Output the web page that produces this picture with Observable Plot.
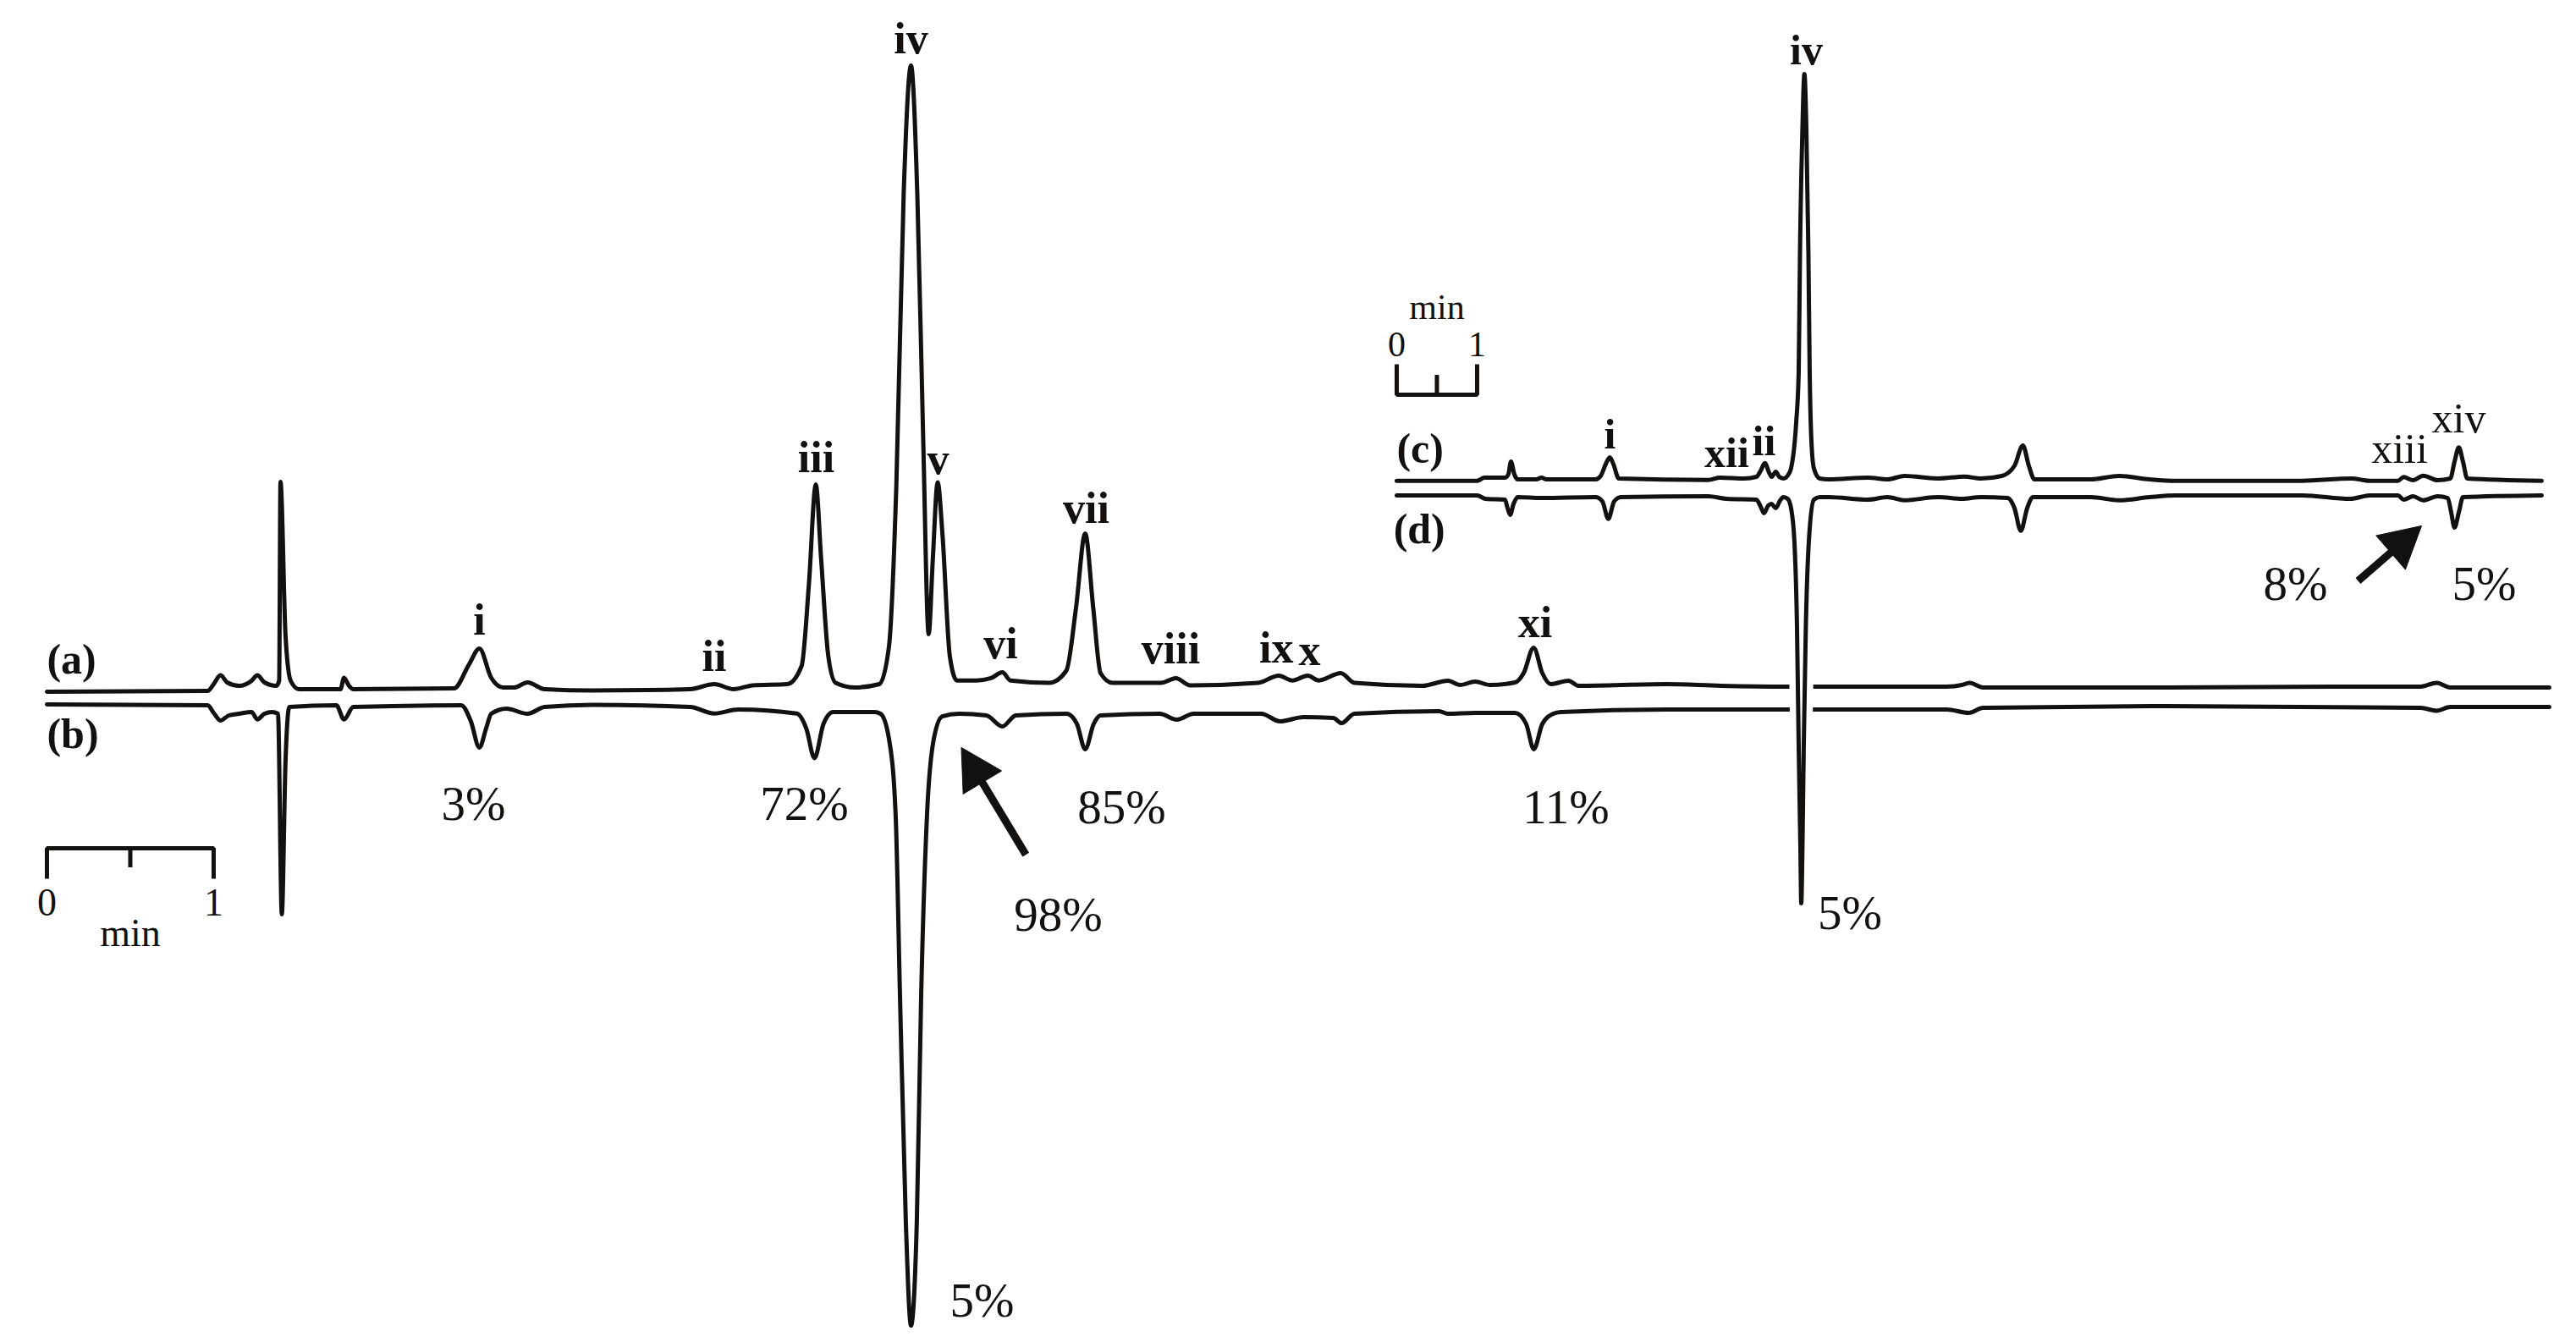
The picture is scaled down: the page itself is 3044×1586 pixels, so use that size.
<!DOCTYPE html>
<html>
<head>
<meta charset="utf-8">
<script src="https://cdn.jsdelivr.net/npm/d3@7"></script>
<script src="https://cdn.jsdelivr.net/npm/@observablehq/plot@0.6"></script>
<style>
  html, body { margin: 0; padding: 0; background: #fff; }
  #chart { position: relative; width: 3044px; height: 1586px; overflow: hidden; background: #fff; }
</style>
</head>
<body>
<div id="chart"></div>
<script>
// ---------- DATA ----------
// Chromatogram (a): retention time (min) / detector response (relative, peak iv = 100)
const timeA = [0.000, 0.964, 1.000, 1.041, 1.081, 1.152, 1.228, 1.262, 1.305, 1.376, 1.393, 1.401, 1.431, 1.462, 1.511, 1.761, 1.782, 1.812, 1.838, 2.442, 2.531, 2.594, 2.665, 2.736, 2.802, 2.883, 2.985, 3.274, 3.858, 4.003, 4.119, 4.234, 4.440, 4.527, 4.571, 4.612, 4.644, 4.687, 4.731, 4.848, 4.993, 5.051, 5.095, 5.139, 5.183, 5.221, 5.256, 5.289, 5.314, 5.343, 5.372, 5.416, 5.459, 5.576, 5.663, 5.731, 5.780, 6.013, 6.115, 6.173, 6.228, 6.276, 6.320, 6.391, 6.683, 6.772, 6.858, 7.266, 7.389, 7.470, 7.563, 7.629, 7.761, 7.843, 8.249, 8.404, 8.477, 8.567, 8.655, 8.807, 8.858, 8.918, 8.970, 9.020, 9.127, 9.188, 9.711, 10.041, 10.431, 11.396, 11.487, 11.533, 11.614, 12.716, 13.706, 14.239, 14.335, 14.416, 15.010];
const signalA = [-0.68, -0.54, 0.54, 1.97, 0.82, 0.27, 1.09, 1.97, 0.82, 0.27, 1.09, 33.06, 8.44, 1.09, -0.27, -0.27, 1.56, 0.27, -0.27, -0.14, 3.67, 6.26, 1.56, 0, 0, 0.82, -0.27, -0.48, -0.27, 0.54, -0.27, 0.34, 0.54, 3.47, 16.73, 32.65, 20.68, 5.03, 0.75, 0, 0.54, 6.60, 32.38, 79.24, 100, 79.24, 40.19, 8.57, 20.68, 32.99, 24.56, 5.03, 1.13, 1.13, 1.50, 2.45, 1.13, 0.75, 2.72, 12.84, 24.76, 12.84, 2.31, 0.75, 0.75, 1.50, 0.34, 0.75, 1.90, 1.13, 1.90, 1.13, 2.31, 0.75, 0.27, 1.09, 0.41, 0.95, 0.41, 0.82, 2.31, 6.39, 2.31, 0.54, 1.09, 0.27, 0.54, 0.27, 0.14, 0.14, 0.41, 0.75, 0, 0, 0.14, 0.14, 0.75, 0, 0];

// Chromatogram (b): drawn inverted (negative response)
const timeB = [0.000, 0.964, 1.000, 1.041, 1.091, 1.152, 1.228, 1.262, 1.305, 1.350, 1.386, 1.409, 1.431, 1.454, 1.736, 1.782, 1.838, 2.485, 2.543, 2.594, 2.635, 2.665, 2.756, 2.883, 2.985, 3.274, 3.858, 4.003, 4.147, 4.497, 4.556, 4.604, 4.658, 4.716, 4.964, 5.000, 5.051, 5.091, 5.117, 5.152, 5.183, 5.218, 5.244, 5.279, 5.320, 5.371, 5.472, 5.635, 5.731, 5.812, 6.117, 6.178, 6.228, 6.279, 6.320, 6.675, 6.777, 6.878, 7.284, 7.396, 7.538, 7.716, 7.766, 7.843, 8.350, 8.404, 8.567, 8.807, 8.873, 8.919, 8.970, 9.036, 9.081, 9.711, 10.431, 11.396, 11.528, 11.614, 12.716, 14.239, 14.335, 14.416, 15.010];
const signalB = [0.82, 0.68, -0.54, -1.77, -0.95, -0.68, -0.41, -1.58, -0.68, -0.41, -0.68, -32.93, -8.44, 0.41, 0.68, -1.58, 0.41, 0.68, -1.90, -6.12, -2.99, -0.68, 0.14, -0.68, 0.41, 0.76, 0.41, -0.64, 0, -0.64, -3.13, -7.82, -2.31, -0.41, -0.41, -0.68, -4.71, -17.01, -45.99, -82.31, -99.05, -82.31, -45.99, -17.01, -4.71, -1.09, -0.68, -0.95, -2.72, -0.95, -0.68, -2.31, -6.39, -2.31, -0.95, -0.68, -1.63, -0.68, -0.68, -1.90, -1.22, -1.36, -2.18, -0.68, -0.27, -0.68, -0.54, -0.54, -2.31, -6.39, -2.31, -0.68, -0.41, 0, 0, 0, -0.54, 0.27, 0.54, 0.27, -0.20, 0.41, 0.41];

// Chromatogram (c): inset, own time scale
const timeC = [0, 1.000, 1.091, 1.347, 1.389, 1.421, 1.463, 1.505, 1.737, 1.800, 1.863, 2.474, 2.537, 2.600, 2.651, 2.695, 2.763, 3.874, 4.021, 4.326, 4.474, 4.526, 4.579, 4.632, 4.663, 4.716, 4.758, 4.811, 4.874, 4.905, 4.968, 5.000, 5.016, 5.047, 5.071, 5.095, 5.121, 5.137, 5.158, 5.189, 5.263, 5.368, 5.863, 6.105, 6.316, 6.737, 7.063, 7.263, 7.526, 7.684, 7.789, 7.863, 7.933, 8.632, 8.985, 9.368, 9.695, 11.263, 11.874, 12.105, 12.453, 12.526, 12.642, 12.768, 12.947, 13.105, 13.158, 13.211, 13.263, 13.316, 14.242];
const signalC = [-0.15, -0.15, 0.63, 0.63, 1.46, 4.58, 1.46, 0.21, 0.21, 0.63, 0.21, 0.21, 1.04, 3.96, 5.63, 3.96, 0.42, 0.06, 0.63, 0.42, 0.83, 2.29, 4.23, 1.88, 0.83, 2.08, 0.83, 0.42, 1.46, 2.92, 13.96, 26.46, 55.63, 86.88, 100, 86.88, 55.63, 26.46, 9.79, 2.92, 0.42, 0.21, 0.63, 0.21, 1.04, 0.42, 0.90, 0.42, 1.04, 3.54, 8.54, 3.54, 0.21, 0.21, 1.04, 0.21, -0.15, -0.15, 0.42, -0.15, -0.15, 0.77, 0, 1.10, 0, 0.42, 4.58, 8.06, 4.58, 0.42, -0.15];

// Chromatogram (d): inset, inverted
const timeD = [0, 1.000, 1.105, 1.347, 1.379, 1.411, 1.453, 1.505, 1.800, 2.474, 2.558, 2.632, 2.705, 2.789, 3.874, 4.105, 4.474, 4.526, 4.568, 4.621, 4.663, 4.716, 4.768, 4.811, 4.863, 4.905, 4.947, 4.979, 5.000, 5.021, 5.032, 5.047, 5.063, 5.089, 5.126, 5.189, 5.263, 5.368, 5.863, 6.105, 6.316, 6.737, 7.032, 7.263, 7.600, 7.684, 7.763, 7.842, 7.916, 8.632, 8.985, 9.368, 9.695, 11.263, 11.860, 12.105, 12.453, 12.526, 12.642, 12.768, 12.947, 13.074, 13.116, 13.158, 13.211, 13.263, 14.242];
const signalD = [0.21, 0.21, -0.63, -0.83, -2.92, -4.58, -1.88, -0.21, -0.42, -0.21, -1.25, -5.56, -1.25, -0.21, 0, -0.63, -0.83, -2.50, -4.17, -2.29, -1.88, -2.92, -1.04, -0.21, -0.63, -2.92, -11.25, -32.08, -61.25, -86.25, -100.2, -86.25, -61.25, -32.08, -11.25, -0.83, -0.21, -0.21, -0.83, -0.21, -0.98, -0.21, -0.63, -0.21, -0.42, -2.92, -8.48, -2.92, -0.21, -0.21, -0.98, -0.21, 0.21, 0.21, -0.63, 0.21, 0.21, -0.83, 0, -0.98, 0, -0.42, -3.96, -7.71, -3.96, -0.21, 0.21];

// Peak labels, main chromatograms (bold)
const peakNamesMain  = ["i", "ii", "iii", "iv", "v", "vi", "vii", "viii", "ix", "x", "xi"];
const peakTimesMain  = [2.594, 4.003, 4.614, 5.183, 5.345, 5.721, 6.234, 6.741, 7.375, 7.574, 8.926];
const peakLevelsMain = [8.44, 2.72, 34.69, 102.0, 34.29, 4.63, 26.53, 3.81, 4.08, 3.67, 8.03];

// Percentages, main
const pctTextMain   = ["3%", "72%", "85%", "11%", "98%", "5%"];
const pctTimesMain  = [2.558, 4.543, 6.447, 9.112, 6.066, 5.609];
const pctLevelsMain = [-21.36, -21.29, -21.9, -21.9, -39.18, -101.1];

// Trace names
const traceNamesMain  = ["(a)", "(b)"];
const traceLevelsMain = [2.3, -9.7];
const traceNamesInset  = ["(c)", "(d)"];
const traceLevelsInset = [4.17, -15.6];

// Peak labels, inset
const peakNamesInset  = ["i", "xii", "ii", "iv", "xiii", "xiv"];
const peakTimesInset  = [2.653, 4.105, 4.568, 5.095, 12.474, 13.211];
const peakLevelsInset = [7.71, 3.19, 6.25, 102.5, 4.23, 11.875];
const peakBoldInset   = [true, true, true, true, false, false];

// Percentages, inset
const pctTextInset   = ["5%", "8%", "5%"];
const pctTimesInset  = [5.637, 11.179, 13.526];
const pctLevelsInset = [-110.6, -29.375, -29.375];

// Scale bars: 0, ½, 1 min
const scaleTicks = [0, 0.5, 1];
const scaleTickLabels = ["0", "", "1"];

// Arrows (tail -> tip)
const arrowMain  = [{tailT: 5.872, tailV: -26.88, tipT: 5.485, tipV: -9.66}];
const arrowInset = [{tailT: 11.958, tailV: -24.79, tipT: 12.747, tipV: -11.25}];

// ---------- LAYOUT ----------
const W = 3044, H = 1586;
const MAIN_X = [-0.279, 15.173], MAIN_Y = [-105.31, 110.48];
const INSET_X = [-17.368, 14.674], INSET_Y = [-212.29, 118.125];
const OFFSET_B = -3.54, OFFSET_D = -3.96;      // vertical stacking of the mirrored traces
const BAR_MAIN  = {level: -25.85, end: -30.75, mid: -28.98, label: -36.73, unit: -41.5};
const BAR_INSET = {level: 21.04, end: 28.54, mid: 25.83, label: 30.625, unit: 39.65};

const INK = "#121110";
const SERIF = "'Liberation Serif', 'Times New Roman', serif";
const LW = 5;

const zip = (ts, vs, off = 0) => ts.map((t, i) => ({t, v: vs[i] + off}));
const labels = (names, ts, vs) => names.map((s, i) => ({s, t: ts[i], v: vs[i]}));

const headShape = {
  draw(ctx, l) {
    const w = l * 0.55;
    ctx.moveTo(0, -l);
    ctx.lineTo(w, 0);
    ctx.lineTo(-w, 0);
    ctx.closePath();
  }
};
function angleFn(xd, yd) {
  const xs = d3.scaleLinear(xd, [0, W]), ys = d3.scaleLinear(yd, [H, 0]);
  return d => {
    const dx = xs(d.tipT) - xs(d.tailT), dy = ys(d.tipV) - ys(d.tailV);
    return Math.atan2(dx, -dy) * 180 / Math.PI;
  };
}
function arrowMarks(data, xd, yd) {
  return [
    Plot.arrow(data, {x1: "tailT", y1: "tailV", x2: "tipT", y2: "tipV", headLength: 0, insetEnd: 36,
      stroke: INK, strokeWidth: 9, strokeLinecap: "butt"}),
    Plot.vector(data, {x: "tipT", y: "tipV", rotate: angleFn(xd, yd), length: 48, anchor: "end",
      shape: headShape, fill: INK, stroke: INK, strokeWidth: 1})
  ];
}
function scaleBar(bar, fontSize) {
  const path = [{t: 0, v: bar.end}, {t: 0, v: bar.level}, {t: 1, v: bar.level}, {t: 1, v: bar.end}];
  return [
    Plot.line(path, {x: "t", y: "v", stroke: INK, strokeWidth: LW, strokeLinejoin: "miter", strokeLinecap: "butt"}),
    Plot.ruleX([scaleTicks[1]], {y1: bar.level, y2: bar.mid, stroke: INK, strokeWidth: LW}),
    Plot.text(scaleTicks.map((t, i) => ({t, s: scaleTickLabels[i]})).filter(d => d.s),
      {x: "t", y: bar.label, text: "s", fontSize, fontFamily: SERIF, fill: INK, lineAnchor: "bottom"}),
    Plot.text([{t: scaleTicks[1], s: "min"}],
      {x: "t", y: bar.unit, text: "s", fontSize, fontFamily: SERIF, fill: INK, lineAnchor: "bottom"})
  ];
}

// ---------- MAIN CHART (a)/(b) ----------
const mainPlot = Plot.plot({
  width: W, height: H, margin: 0,
  x: {domain: MAIN_X, axis: null},
  y: {domain: MAIN_Y, axis: null},
  style: "position:absolute;left:0;top:0;background:white;max-width:none;overflow:visible;",
  marks: [
    Plot.line(zip(timeA, signalA), {x: "t", y: "v", curve: "monotone-x", stroke: INK, strokeWidth: LW, strokeLinejoin: "round"}),
    Plot.line(zip(timeB, signalB, OFFSET_B), {x: "t", y: "v", curve: "monotone-x", stroke: INK, strokeWidth: LW, strokeLinejoin: "round"}),
    Plot.text(labels(peakNamesMain, peakTimesMain, peakLevelsMain),
      {x: "t", y: "v", text: "s", fontSize: 52, fontWeight: "bold", fontFamily: SERIF, fill: INK, lineAnchor: "bottom"}),
    Plot.text(labels(pctTextMain, pctTimesMain, pctLevelsMain),
      {x: "t", y: "v", text: "s", fontSize: 57, fontFamily: SERIF, fill: INK, lineAnchor: "bottom"}),
    Plot.text(labels(traceNamesMain, [0, 0], traceLevelsMain),
      {x: "t", y: "v", text: "s", fontSize: 50, fontWeight: "bold", fontFamily: SERIF, fill: INK, lineAnchor: "bottom", textAnchor: "start"}),
    ...scaleBar(BAR_MAIN, 46),
    ...arrowMarks(arrowMain, MAIN_X, MAIN_Y)
  ]
});

// ---------- INSET (c)/(d) ----------
const traceC = zip(timeC, signalC);
const traceD = zip(timeD, signalD, OFFSET_D);
const insetPlot = Plot.plot({
  width: W, height: H, margin: 0,
  x: {domain: INSET_X, axis: null},
  y: {domain: INSET_Y, axis: null},
  style: "position:absolute;left:0;top:0;background:transparent;max-width:none;overflow:visible;",
  marks: [
    // white knock-out where the inset crosses the main traces
    Plot.line(traceC, {x: "t", y: "v", curve: "monotone-x", stroke: "white", strokeWidth: 20}),
    Plot.line(traceD, {x: "t", y: "v", curve: "monotone-x", stroke: "white", strokeWidth: 20}),
    Plot.line(traceC, {x: "t", y: "v", curve: "monotone-x", stroke: INK, strokeWidth: LW, strokeLinejoin: "round"}),
    Plot.line(traceD, {x: "t", y: "v", curve: "monotone-x", stroke: INK, strokeWidth: LW, strokeLinejoin: "round"}),
    Plot.text(labels(peakNamesInset, peakTimesInset, peakLevelsInset).filter((d, i) => peakBoldInset[i]),
      {x: "t", y: "v", text: "s", fontSize: 50, fontWeight: "bold", fontFamily: SERIF, fill: INK, lineAnchor: "bottom"}),
    Plot.text(labels(peakNamesInset, peakTimesInset, peakLevelsInset).filter((d, i) => !peakBoldInset[i]),
      {x: "t", y: "v", text: "s", fontSize: 50, fontFamily: SERIF, fill: INK, lineAnchor: "bottom"}),
    Plot.text(labels(pctTextInset, pctTimesInset, pctLevelsInset),
      {x: "t", y: "v", text: "s", fontSize: 57, fontFamily: SERIF, fill: INK, lineAnchor: "bottom"}),
    Plot.text(labels(traceNamesInset, [0, -0.04], traceLevelsInset),
      {x: "t", y: "v", text: "s", fontSize: 50, fontWeight: "bold", fontFamily: SERIF, fill: INK, lineAnchor: "bottom", textAnchor: "start"}),
    ...scaleBar(BAR_INSET, 42),
    ...arrowMarks(arrowInset, INSET_X, INSET_Y)
  ]
});

const chart = document.getElementById("chart");
chart.appendChild(mainPlot);
chart.appendChild(insetPlot);
</script>
</body>
</html>
